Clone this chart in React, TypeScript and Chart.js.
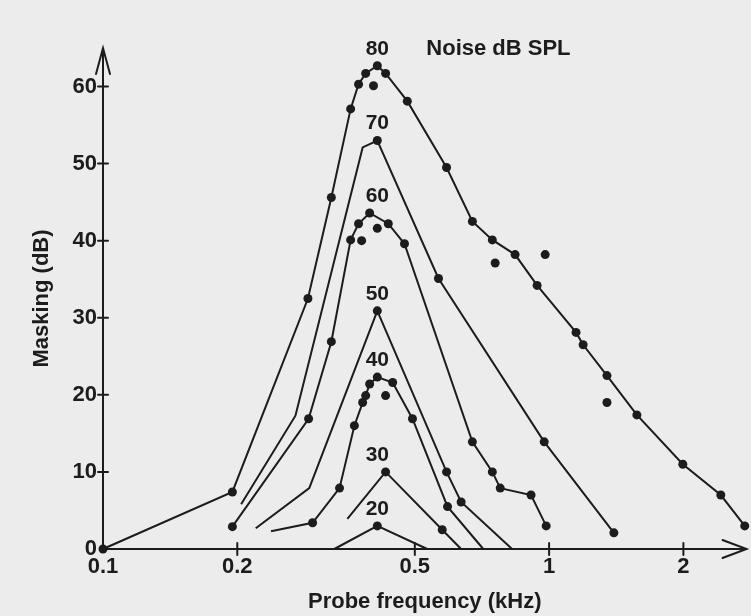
import React, { useEffect, useRef } from 'react';
import { Chart, registerables } from 'chart.js';

Chart.register(...registerables);

// ---- Tick labels / categories ----
const xTicks = [0.1, 0.2, 0.5, 1, 2];
const yTicks = [0, 10, 20, 30, 40, 50, 60];
const noiseLevels = ['80', '70', '60', '50', '40', '30', '20'];

// ---- Series: probe frequency (kHz) and masking (dB) ----
const n80Freq = [0.1, 0.195, 0.288, 0.325, 0.359, 0.374, 0.388, 0.412, 0.43, 0.481, 0.589, 0.673, 0.746, 0.839, 0.94, 1.149, 1.192, 1.348, 1.573, 1.994, 2.426, 2.745];
const n80dB = [0, 7.4, 32.5, 45.6, 57.1, 60.3, 61.7, 62.7, 61.7, 58.1, 49.5, 42.5, 40.1, 38.2, 34.2, 28.1, 26.5, 22.5, 17.4, 11.0, 7.0, 3.0];
const n80Measured = [true, true, true, true, true, true, true, true, true, true, true, true, true, true, true, true, true, true, true, true, true, true];
const n80ExtraFreq = [0.404, 0.757, 0.98, 1.348];
const n80ExtradB = [60.1, 37.1, 38.2, 19.0];

const n70Freq = [0.204, 0.27, 0.382, 0.412, 0.565, 0.975, 1.397];
const n70dB = [5.8, 17.3, 52.1, 53.0, 35.1, 13.9, 2.1];
const n70Measured = [false, false, false, true, true, true, true];

const n60Freq = [0.195, 0.289, 0.325, 0.359, 0.374, 0.396, 0.436, 0.474, 0.673, 0.746, 0.777, 0.911, 0.985];
const n60dB = [2.9, 16.9, 26.9, 40.1, 42.2, 43.6, 42.2, 39.6, 13.9, 10.0, 7.9, 7.0, 3.0];
const n60Measured = [true, true, true, true, true, true, true, true, true, true, true, true, true];
const n60ExtraFreq = [0.38, 0.412];
const n60ExtradB = [40.0, 41.6];

const n50Freq = [0.22, 0.29, 0.412, 0.589, 0.635, 0.826];
const n50dB = [2.7, 7.9, 30.9, 10.0, 6.1, 0];
const n50Measured = [false, false, true, true, true, false];

const n40Freq = [0.238, 0.295, 0.339, 0.366, 0.382, 0.388, 0.396, 0.412, 0.446, 0.494, 0.592, 0.712];
const n40dB = [2.3, 3.4, 7.9, 16.0, 19.0, 19.9, 21.4, 22.3, 21.6, 16.9, 5.5, 0];
const n40Measured = [false, true, true, true, true, true, true, true, true, true, true, false];
const n40ExtraFreq = [0.43];
const n40ExtradB = [19.9];

const n30Freq = [0.353, 0.43, 0.576, 0.635];
const n30dB = [3.9, 10.0, 2.5, 0];
const n30Measured = [false, true, true, false];

const n20Freq = [0.33, 0.412, 0.533];
const n20dB = [0, 3.0, 0];
const n20Measured = [false, true, false];

const labelFreq = 0.412;

const curves = [
  { label: noiseLevels[0], freq: n80Freq, db: n80dB, measured: n80Measured },
  { label: noiseLevels[1], freq: n70Freq, db: n70dB, measured: n70Measured },
  { label: noiseLevels[2], freq: n60Freq, db: n60dB, measured: n60Measured },
  { label: noiseLevels[3], freq: n50Freq, db: n50dB, measured: n50Measured },
  { label: noiseLevels[4], freq: n40Freq, db: n40dB, measured: n40Measured },
  { label: noiseLevels[5], freq: n30Freq, db: n30dB, measured: n30Measured },
  { label: noiseLevels[6], freq: n20Freq, db: n20dB, measured: n20Measured },
];

const extraFreq = [...n80ExtraFreq, ...n60ExtraFreq, ...n40ExtraFreq];
const extradB = [...n80ExtradB, ...n60ExtradB, ...n40ExtradB];

const INK = '#1c1c1c';
const FAMILY = "'Liberation Sans', Arial, Helvetica, sans-serif";

const overlayPlugin = {
  id: 'overlay',
  beforeDatasetsDraw(chart: any) {
    const { ctx, chartArea, scales } = chart;
    const { left, right, top, bottom } = chartArea;
    const x = scales.x;
    const y = scales.y;
    ctx.save();
    ctx.strokeStyle = INK;
    ctx.lineWidth = 2;
    ctx.lineCap = 'round';
    ctx.beginPath();
    ctx.moveTo(left, bottom);
    ctx.lineTo(right, bottom);
    ctx.moveTo(left, bottom);
    ctx.lineTo(left, top);
    // arrow heads
    ctx.moveTo(right - 24, bottom - 9);
    ctx.lineTo(right, bottom);
    ctx.lineTo(right - 24, bottom + 9);
    ctx.moveTo(left - 7, top + 26);
    ctx.lineTo(left, top);
    ctx.lineTo(left + 7, top + 26);
    // tick marks crossing the axes
    x.ticks.forEach((t: any, i: number) => {
      if (i === 0) return;
      const px = x.getPixelForValue(t.value);
      ctx.moveTo(px, bottom - 6);
      ctx.lineTo(px, bottom + 6);
    });
    y.ticks.forEach((t: any, i: number) => {
      if (i === 0) return;
      const py = y.getPixelForValue(t.value);
      ctx.moveTo(left - 5, py);
      ctx.lineTo(left + 5, py);
    });
    ctx.stroke();
    ctx.restore();
  },
  afterDatasetsDraw(chart: any) {
    const { ctx, scales } = chart;
    const x = scales.x;
    const y = scales.y;
    ctx.save();
    ctx.fillStyle = INK;
    ctx.textBaseline = 'middle';
    ctx.textAlign = 'center';
    ctx.font = `bold 21px ${FAMILY}`;
    const lx = x.getPixelForValue(labelFreq);
    let topLabelY = 0;
    curves.forEach((c, i) => {
      const peak = Math.max(...c.db);
      const py = y.getPixelForValue(peak) - 17;
      if (i === 0) topLabelY = py;
      ctx.fillText(c.label, lx, py);
    });
    ctx.textAlign = 'left';
    ctx.font = `bold 22px ${FAMILY}`;
    ctx.fillText('Noise dB SPL', lx + 49, topLabelY);
    ctx.restore();
  },
};

export default function App() {
  const canvasRef = useRef<HTMLCanvasElement | null>(null);

  useEffect(() => {
    if (!canvasRef.current) return;
    const datasets: any[] = curves.map((c) => ({
      label: c.label,
      data: c.freq.map((f, i) => ({ x: f, y: c.db[i] })),
      borderColor: INK,
      borderWidth: 2,
      backgroundColor: INK,
      pointBackgroundColor: INK,
      pointBorderWidth: 0,
      pointRadius: c.measured.map((m) => (m ? 4.5 : 0)),
      tension: 0,
      fill: false,
      clip: false,
    }));
    datasets.push({
      label: 'single measurements',
      data: extraFreq.map((f, i) => ({ x: f, y: extradB[i] })),
      showLine: false,
      borderColor: INK,
      backgroundColor: INK,
      pointBackgroundColor: INK,
      pointBorderWidth: 0,
      pointRadius: 4.5,
      clip: false,
    });

    const tickFont = { family: FAMILY, size: 22, weight: 'bold' as const };
    const chart = new Chart(canvasRef.current, {
      type: 'line',
      data: { datasets },
      options: {
        animation: false,
        responsive: true,
        maintainAspectRatio: false,
        layout: { padding: { top: 48, right: 3, left: 0, bottom: 0 } },
        plugins: { legend: { display: false }, tooltip: { enabled: false } },
        scales: {
          x: {
            type: 'logarithmic',
            min: 0.1,
            max: 2.77,
            afterBuildTicks: (axis: any) => {
              axis.ticks = xTicks.map((v) => ({ value: v }));
            },
            afterFit: (s: any) => {
              s.height = 67;
            },
            grid: { display: false, drawTicks: false },
            border: { display: false },
            ticks: {
              color: INK,
              font: tickFont,
              padding: 5,
              autoSkip: false,
              maxRotation: 0,
              callback: (v: any) => String(v),
            },
            title: {
              display: true,
              text: 'Probe frequency (kHz)',
              color: INK,
              font: { family: FAMILY, size: 22, weight: 'bold' },
              padding: { top: 0, bottom: 1 },
            },
          },
          y: {
            type: 'linear',
            min: 0,
            max: 65,
            afterBuildTicks: (axis: any) => {
              axis.ticks = yTicks.map((v) => ({ value: v }));
            },
            afterFit: (s: any) => {
              s.width = 103;
            },
            grid: { display: false, drawTicks: false },
            border: { display: false },
            ticks: {
              color: INK,
              font: tickFont,
              padding: 6,
              callback: (v: any) => String(v),
            },
            title: {
              display: true,
              text: 'Masking (dB)',
              color: INK,
              font: { family: FAMILY, size: 22, weight: 'bold' },
              padding: { top: 29, bottom: 0 },
            },
          },
        },
      },
      plugins: [overlayPlugin],
    });
    return () => chart.destroy();
  }, []);

  return (
    <div
      style={{
        position: 'absolute',
        left: 0,
        top: 0,
        width: 751,
        height: 616,
        background: '#ececec',
      }}
    >
      <canvas ref={canvasRef} />
    </div>
  );
}
